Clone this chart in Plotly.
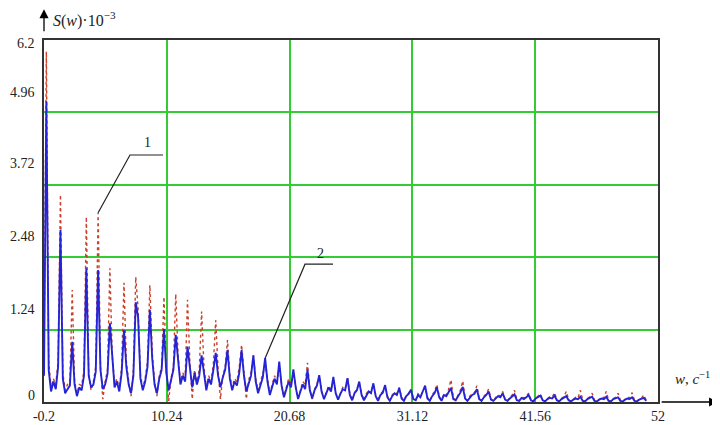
import numpy as np
import plotly.graph_objects as go

# ---------------- data ----------------
w_start, w_step, n_pts = -0.2, 0.2, 257
w = np.round(w_start + w_step * np.arange(n_pts), 3)

# curve 1 (red dotted), S(w)*10^-3
s1 = [
    0.50, 6.00, 0.70, 0.25, 0.40, 0.30, 0.70, 3.55, 0.50, 0.20,
    0.30, 0.35, 1.92, 0.35, 0.15, 0.30, 0.28, 0.55, 3.17, 0.50,
    0.20, 0.35, 0.60, 3.24, 0.65, 0.05, 0.35, 0.55, 2.29, 0.80,
    0.30, 0.40, 0.22, 0.60, 2.04, 0.70, 0.35, 0.10, 0.55, 2.14,
    1.60, 0.45, 0.25, 0.40, 0.70, 2.00, 0.85, 0.35, 0.10, 0.45,
    0.60, 1.80, 0.55, 0.02, 0.40, 0.60, 1.85, 0.80, 0.35, 0.50,
    0.40, 1.75, 0.70, 0.05, 0.55, 0.35, 0.55, 1.55, 0.60, 0.25,
    0.45, 0.35, 0.65, 1.40, 0.55, 0.05, 0.45, 0.60, 1.06, 0.45,
    0.25, 0.40, 0.35, 0.60, 0.98, 0.50, 0.05, 0.38, 0.50, 0.80,
    0.40, 0.20, 0.35, 0.50, 0.63, 0.40, 0.15, 0.30, 0.45, 0.35,
    0.60, 0.30, 0.10, 0.25, 0.40, 0.30, 0.50, 0.28, 0.06, 0.20,
    0.35, 0.30, 0.67, 0.22, 0.05, 0.22, 0.30, 0.45, 0.20, 0.05,
    0.18, 0.28, 0.20, 0.40, 0.16, 0.04, 0.15, 0.25, 0.22, 0.42,
    0.14, 0.03, 0.16, 0.22, 0.33, 0.14, 0.03, 0.14, 0.20, 0.16,
    0.30, 0.12, 0.02, 0.14, 0.18, 0.28, 0.10, 0.02, 0.12, 0.16,
    0.14, 0.25, 0.08, 0.02, 0.12, 0.15, 0.22, 0.06, 0.03, 0.14,
    0.10, 0.18, 0.25, 0.08, 0.02, 0.12, 0.18, 0.30, 0.10, 0.03,
    0.14, 0.12, 0.22, 0.38, 0.08, 0.03, 0.12, 0.20, 0.36, 0.08,
    0.02, 0.10, 0.15, 0.16, 0.28, 0.06, 0.02, 0.10, 0.14, 0.22,
    0.05, 0.02, 0.08, 0.12, 0.10, 0.18, 0.05, 0.02, 0.08, 0.12,
    0.20, 0.04, 0.02, 0.08, 0.07, 0.10, 0.15, 0.04, 0.01, 0.07,
    0.10, 0.14, 0.04, 0.01, 0.06, 0.09, 0.08, 0.16, 0.04, 0.01,
    0.06, 0.09, 0.18, 0.04, 0.01, 0.05, 0.08, 0.07, 0.20, 0.03,
    0.01, 0.06, 0.09, 0.15, 0.03, 0.01, 0.05, 0.08, 0.07, 0.18,
    0.03, 0.01, 0.06, 0.08, 0.15, 0.03, 0.01, 0.05, 0.08, 0.07,
    0.16, 0.03, 0.01, 0.05, 0.07, 0.12, 0.03,
]

# curve 2 (blue solid), S(w)*10^-3
s2 = [
    0.45, 5.15, 0.55, 0.18, 0.35, 0.22, 0.60, 2.95, 0.40, 0.15,
    0.22, 0.28, 1.03, 0.30, 0.10, 0.25, 0.20, 0.45, 2.29, 0.45,
    0.25, 0.30, 0.52, 2.26, 0.55, 0.22, 0.30, 0.48, 1.35, 0.70,
    0.25, 0.35, 0.18, 0.50, 1.23, 0.60, 0.30, 0.15, 0.45, 1.71,
    1.45, 0.40, 0.20, 0.35, 0.60, 1.58, 0.75, 0.30, 0.15, 0.40,
    0.55, 1.25, 0.50, 0.20, 0.35, 0.55, 1.15, 0.70, 0.30, 0.45,
    0.35, 0.95, 0.60, 0.25, 0.50, 0.30, 0.45, 0.80, 0.50, 0.20,
    0.40, 0.30, 0.55, 0.84, 0.45, 0.25, 0.42, 0.55, 0.89, 0.40,
    0.20, 0.35, 0.28, 0.50, 0.89, 0.45, 0.18, 0.32, 0.45, 0.80,
    0.35, 0.15, 0.30, 0.42, 0.75, 0.35, 0.12, 0.25, 0.40, 0.30,
    0.69, 0.28, 0.08, 0.22, 0.35, 0.25, 0.56, 0.25, 0.05, 0.18,
    0.30, 0.22, 0.55, 0.20, 0.06, 0.20, 0.28, 0.46, 0.18, 0.05,
    0.15, 0.25, 0.18, 0.43, 0.15, 0.04, 0.14, 0.22, 0.20, 0.41,
    0.12, 0.03, 0.15, 0.20, 0.35, 0.12, 0.03, 0.12, 0.18, 0.15,
    0.32, 0.10, 0.02, 0.12, 0.16, 0.29, 0.08, 0.02, 0.10, 0.15,
    0.12, 0.24, 0.06, 0.02, 0.10, 0.14, 0.21, 0.05, 0.03, 0.12,
    0.08, 0.18, 0.28, 0.06, 0.02, 0.10, 0.15, 0.25, 0.08, 0.02,
    0.12, 0.10, 0.18, 0.24, 0.05, 0.03, 0.10, 0.16, 0.26, 0.06,
    0.02, 0.08, 0.12, 0.14, 0.22, 0.05, 0.02, 0.08, 0.12, 0.18,
    0.04, 0.02, 0.07, 0.10, 0.08, 0.15, 0.04, 0.02, 0.06, 0.09,
    0.13, 0.03, 0.02, 0.07, 0.05, 0.08, 0.12, 0.03, 0.01, 0.06,
    0.08, 0.11, 0.03, 0.01, 0.05, 0.07, 0.06, 0.11, 0.03, 0.01,
    0.05, 0.07, 0.10, 0.03, 0.01, 0.04, 0.06, 0.05, 0.09, 0.02,
    0.01, 0.05, 0.07, 0.09, 0.02, 0.01, 0.04, 0.06, 0.05, 0.09,
    0.02, 0.01, 0.05, 0.06, 0.08, 0.02, 0.01, 0.04, 0.06, 0.05,
    0.08, 0.02, 0.01, 0.04, 0.05, 0.07, 0.02,
]

x_ticks = [-0.2, 10.24, 20.68, 31.12, 41.56, 52]
x_tick_text = ["-0.2", "10.24", "20.68", "31.12", "41.56", "52"]
y_ticks = [0, 1.24, 2.48, 3.72, 4.96, 6.2]
y_tick_text = ["0", "1.24", "2.48", "3.72", "4.96", "6.2"]

curve_labels = ["1", "2"]
y_title = "<i>S</i>(<i>w</i>)·10<sup>−3</sup>"
x_title = "<i>w</i>, <i>c</i><sup>−1</sup>"

# ---------------- style ----------------
FONT = "Liberation Serif, Times New Roman, serif"
GRID = "#33cc33"
BLUE = "#2424d6"
RED = "#c8402a"
TXT = "#222222"

fig = go.Figure()
fig.add_trace(go.Scatter(x=w, y=s1, mode="lines",
                         line=dict(color=RED, width=1.4, dash="dot"), name="1"))
fig.add_trace(go.Scatter(x=w, y=s2, mode="lines",
                         line=dict(color=BLUE, width=1.9), name="2"))

# the page body adds an 8px margin, so the figure is 712x417 inside the window
fig.update_layout(
    width=712, height=417,
    margin=dict(l=36, r=62, t=32, b=23, autoexpand=False),
    paper_bgcolor="white", plot_bgcolor="white",
    showlegend=False,
    font=dict(family=FONT, size=14, color=TXT),
)
fig.update_xaxes(
    range=[x_ticks[0], x_ticks[-1]],
    tickvals=x_ticks, ticktext=x_tick_text,
    showgrid=True, gridcolor=GRID, gridwidth=1.5,
    zeroline=False, ticks="", automargin=False,
    ticklabelstandoff=0,
    showline=True, linecolor="#333333", linewidth=1.5, mirror=True,
    tickfont=dict(family=FONT, size=14, color=TXT),
)
fig.update_yaxes(
    range=[y_ticks[0], y_ticks[-1]],
    tickvals=y_ticks, showticklabels=False,
    showgrid=True, gridcolor=GRID, gridwidth=1.5,
    zeroline=False, ticks="", automargin=False,
    showline=True, linecolor="#333333", linewidth=1.5, mirror=True,
)

# y tick labels (Mathcad places them above the grid lines)
label_shift = {0: 7, 1: 20, 2: 21, 3: 21, 4: 20, 5: -3}
for k, (v, t) in enumerate(zip(y_ticks, y_tick_text)):
    fig.add_annotation(x=-0.012, xref="paper", y=v, yref="y", text=t,
                       showarrow=False, xanchor="right", yanchor="middle",
                       yshift=label_shift[k],
                       font=dict(family=FONT, size=14, color=TXT))

# axis arrows
fig.add_annotation(x=0, xref="paper", y=1.085, yref="paper", ax=0, ay=31,
                   axref="pixel", ayref="pixel", text=" ", showarrow=True,
                   arrowhead=2, arrowsize=1.4, arrowwidth=1.3, arrowcolor="black")
fig.add_annotation(x=1.098, xref="paper", y=0, yref="paper", ax=-60, ay=0,
                   axref="pixel", ayref="pixel", text=" ", showarrow=True,
                   arrowhead=2, arrowsize=1.4, arrowwidth=1.3, arrowcolor="black")

# axis titles
fig.add_annotation(x=0.012, xref="paper", y=1.058, yref="paper", text=y_title,
                   showarrow=False, xanchor="left", yanchor="middle",
                   font=dict(family=FONT, size=16, color=TXT))
fig.add_annotation(x=1.024, xref="paper", y=0.066, yref="paper", text=x_title,
                   showarrow=False, xanchor="left", yanchor="middle",
                   font=dict(family=FONT, size=15, color=TXT))

# curve callouts: leader from the peak to a horizontal shelf with the number
peak1, peak2 = 23, 94
tip1 = (w[peak1], s1[peak1])
tip2 = (w[peak2], s2[peak2])
knee1, end1 = (7.11, 4.23), (9.92, 4.23)
knee2, end2 = (21.99, 2.36), (24.37, 2.36)
for tip, knee, end in [(tip1, knee1, end1), (tip2, knee2, end2)]:
    fig.add_shape(type="path", xref="x", yref="y",
                  path=f"M {tip[0]},{tip[1]} L {knee[0]},{knee[1]} L {end[0]},{end[1]}",
                  line=dict(color=TXT, width=1.2))
fig.add_annotation(x=8.56, y=4.45, text=curve_labels[0], showarrow=False,
                   font=dict(family=FONT, size=14, color=TXT))
fig.add_annotation(x=23.27, y=2.55, text=curve_labels[1], showarrow=False,
                   font=dict(family=FONT, size=14, color=TXT))

fig.write_html("out.html")
